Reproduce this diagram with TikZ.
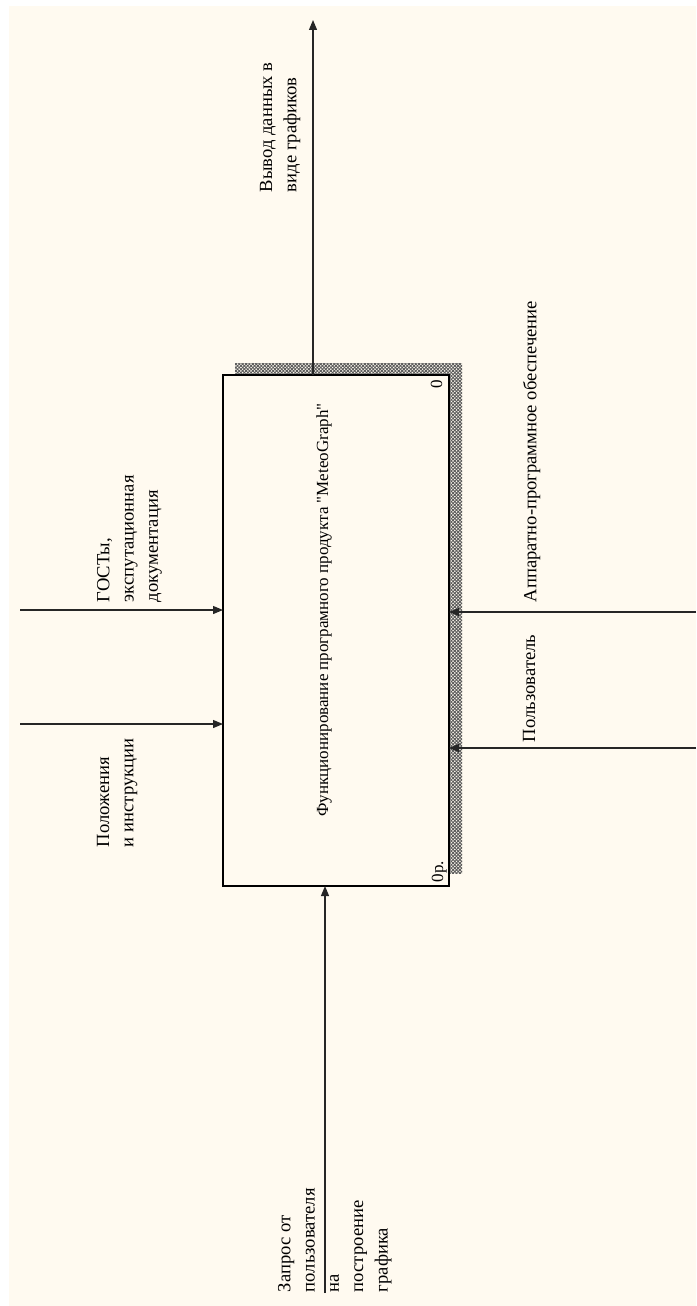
\documentclass[tikz,border=0pt]{standalone}
\usepackage{fontspec}
\setmainfont{Liberation Serif}[Ligatures=TeXOff]
\usetikzlibrary{arrows.meta,patterns.meta}
\definecolor{paper}{RGB}{255,250,240}
\begin{document}
\begin{tikzpicture}[x=1pt,y=-1pt,
  flow/.style={line width=1.2pt, draw=black!85, -{Triangle[length=10pt,width=8pt]}},
  lbl/.style={rotate=90, anchor=north west, inner sep=0pt, outer sep=0pt, align=left,
              font=\fontsize{18.6}{24.3}\selectfont},
  corner/.style={rotate=90, inner sep=0pt, outer sep=0pt, font=\fontsize{17}{20}\selectfont},
  hatchA/.style={pattern={Lines[angle=45,distance=2.4pt,line width=0.9pt]}, pattern color=black!65},
  hatchB/.style={pattern={Lines[angle=-45,distance=2.4pt,line width=0.9pt]}, pattern color=black!65},
  funcbox/.style={draw, line width=2pt, fill=paper, minimum width=226pt, minimum height=511pt,
                  inner sep=0pt, outer sep=0pt}]
\useasboundingbox (0,0) rectangle (696,1306);
\fill[white] (0,0) rectangle (696,1306);
\fill[paper] (9,6) rectangle (696,1306);

% drop shadow of the activity box
\fill[hatchA] (235,363) rectangle (462,873);
\fill[hatchB] (235,363) rectangle (462,873);

% activity box
\node[funcbox] (fn) at (336,630.5) {};
\node[rotate=90, anchor=base, inner sep=0pt, font=\fontsize{17}{20}\selectfont] (title) at (328,610)
  {Функционирование програмного продукта "MeteoGraph"};
\node[corner, anchor=base east] (num) at (442,380) {0};
\node[corner, anchor=base west] (cost) at (443,882) {0р.};

% free ends of the arrows
\coordinate (ctlA) at (20,610);
\coordinate (ctlB) at (20,724);
\coordinate (mechA) at (696,612);
\coordinate (mechB) at (696,748);
\coordinate (inp) at (325,1293);
\coordinate (outp) at (313,20);

% arrows
\draw[flow] (ctlA) -- (ctlA -| fn.west);
\draw[flow] (ctlB) -- (ctlB -| fn.west);
\draw[flow] (mechA) -- (mechA -| fn.east);
\draw[flow] (mechB) -- (mechB -| fn.east);
\draw[flow] (inp) -- (inp |- fn.south);
\draw[flow] (outp |- fn.north) -- (outp);

% arrow labels
\node[lbl] (lout) at (260,192) {Вывод данных в\\виде графиков};
\node[lbl] (lgost) at (97,602) {ГОСТы,\\экспутационная\\документация};
\node[lbl] (lpol) at (97,847) {Положения\\и инструкции};
\node[lbl] (lhw) at (523,602) {Аппаратно-программное обеспечение};
\node[lbl] (luser) at (523,742) {Пользователь};
\node[lbl] (lreq) at (278,1292) {Запрос от\\пользователя\\на\\построение\\графика};
\end{tikzpicture}
\end{document}
